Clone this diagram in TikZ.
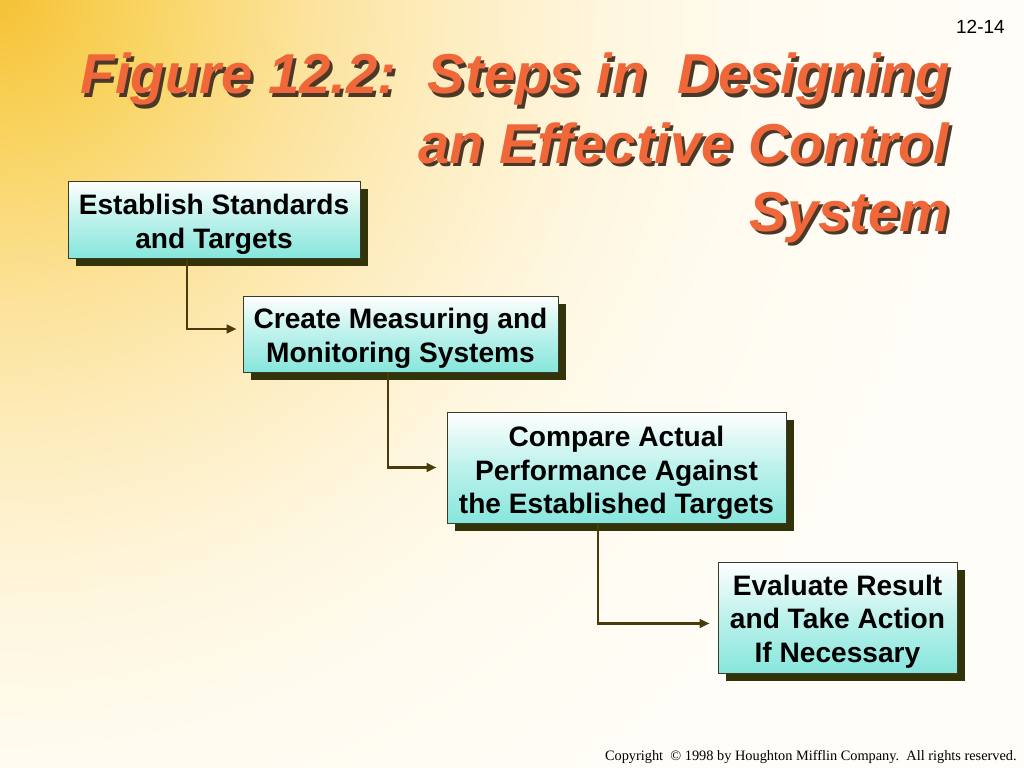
\documentclass[tikz,border=0pt]{standalone}
\usepackage{fontspec}
\setmainfont{Liberation Sans}
\newfontfamily\serifcr{Liberation Serif}
\usetikzlibrary{shadows,arrows.meta,calc}
\definecolor{bgA}{HTML}{F6C235}
\definecolor{bgB}{HTML}{F9D565}
\definecolor{bgC}{HTML}{FCE29A}
\definecolor{bgD}{HTML}{FDEDC0}
\definecolor{bgE}{HTML}{FEF6DE}
\definecolor{bgF}{HTML}{FFFBF0}
\definecolor{bgG}{HTML}{FFFDF8}
\definecolor{titlec}{HTML}{F0683A}
\definecolor{titlesh}{HTML}{4A3828}
\definecolor{boxsh}{HTML}{33330A}
\definecolor{aqua}{HTML}{86E6DC}
\definecolor{connc}{HTML}{4A3C0A}
\definecolor{boxline}{HTML}{3A3A2A}
\pgfdeclareradialshading{bgshade}{\pgfpoint{0bp}{0bp}}{%
  color(0bp)=(bgA); color(107bp)=(bgB); color(213bp)=(bgC); color(320bp)=(bgD); color(427bp)=(bgE); color(541bp)=(bgF); color(711bp)=(bgG); color(930bp)=(bgG)}
\newcommand\shadowed[1]{\rlap{\hspace*{2.1pt}\raisebox{-2.6pt}{\textcolor{titlesh}{#1}}}#1}
\tikzset{
  stepbox/.style={draw=boxline, line width=0.6pt, top color=white, bottom color=aqua,
    middle color=white!45!aqua, inner sep=0pt,
    drop shadow={shadow xshift=5.7pt, shadow yshift=-5.7pt, fill=boxsh, opacity=1}},
  boxtext/.style={font=\fontsize{20}{24}\selectfont\bfseries, align=center, inner sep=0pt},
  conn/.style={draw=connc, line width=1.8pt, -{Triangle[length=7pt,width=6pt]}},
  titletxt/.style={font=\fontsize{40}{48}\selectfont\bfseries\itshape, text=titlec, inner sep=0pt, anchor=base east},
}
\begin{document}
\begin{tikzpicture}[x=0.025cm, y=-0.025cm]
\useasboundingbox (0,0) rectangle (1024,768);
\begin{scope}
\clip (0,0) rectangle (1024,768);
\fill[bgG] (0,0) rectangle (1024,768);
\node[inner sep=0pt, outer sep=0pt] (bg) at (0,0) {\pgfuseshading{bgshade}};
\end{scope}
% page number
\node[font=\fontsize{13.5}{15}\selectfont, anchor=base east, inner sep=0pt] (pnum) at (1005,34) {12-14};
% title
\node[titletxt] (title1) at (950,94) {\shadowed{Figure 12.2:\ \ Steps in\ \ Designing}};
\node[titletxt] (title2) at (949,163) {\shadowed{an Effective Control}};
\node[titletxt] (title3) at (950,231) {\shadowed{System}};
% boxes
\node[stepbox, minimum width=292*0.025cm, minimum height=77*0.025cm] (b1) at (214,219.5) {};
\node[stepbox, minimum width=315*0.025cm, minimum height=76*0.025cm] (b2) at (400.5,334) {};
\node[stepbox, minimum width=339*0.025cm, minimum height=111*0.025cm] (b3) at (616.5,467.5) {};
\node[stepbox, minimum width=239*0.025cm, minimum height=111*0.025cm] (b4) at (837.5,617.5) {};
\node[boxtext] (t1) at ($(b1.center)+(0,5)$) {Establish Standards\\and Targets};
\node[boxtext] (t2) at ($(b2.center)+(0,4.5)$) {Create Measuring and\\Monitoring Systems};
\node[boxtext] (t3) at ($(b3.center)+(0,5.5)$) {Compare Actual\\Performance Against\\the Established Targets};
\node[boxtext] (t4) at ($(b4.center)+(0,4)$) {Evaluate Result\\and Take Action\\If Necessary};
% connectors
\coordinate (e2) at ($(b2.west)+(-6,-5)$);
\coordinate (e3) at ($(b3.west)+(-10,0)$);
\coordinate (e4) at ($(b4.west)+(-8,6)$);
\draw[conn] (b1.south -| 187,0) |- (e2);
\draw[conn] (b2.south -| 388,0) |- (e3);
\draw[conn] (b3.south -| 598,0) |- (e4);
% copyright
\node[font=\serifcr\fontsize{10.2}{12}\selectfont, anchor=base east, inner sep=0pt] (copy) at (1017,760)
  {Copyright\ \ \textcopyright\ 1998 by Houghton Mifflin Company.\ \ All rights reserved.};
\end{tikzpicture}
\end{document}
